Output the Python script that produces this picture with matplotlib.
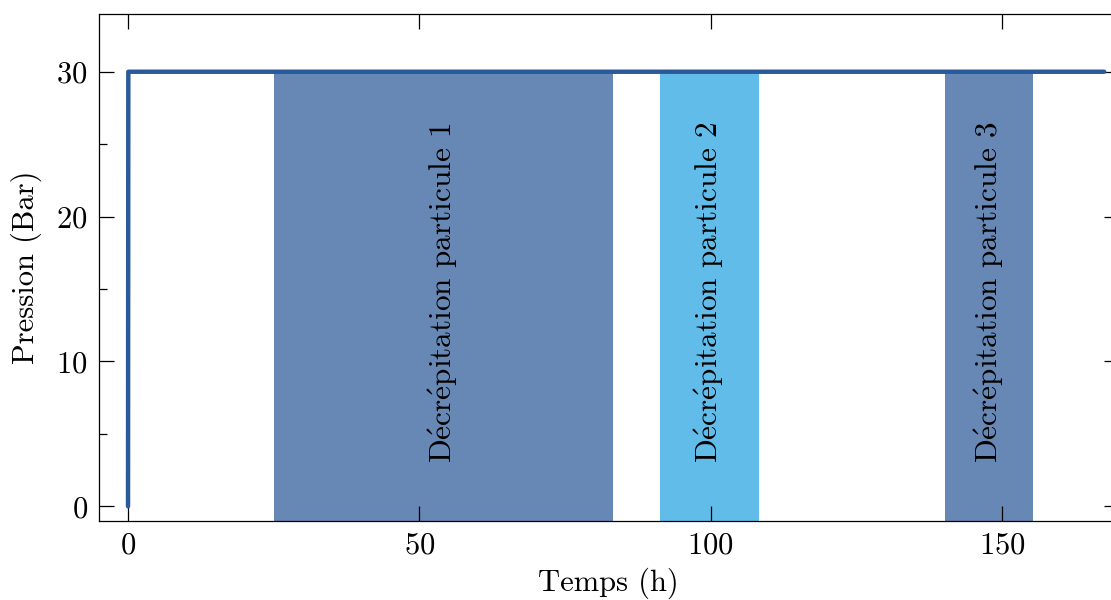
import numpy as np
import matplotlib
matplotlib.use("Agg")
import matplotlib.pyplot as plt
from matplotlib.ticker import MultipleLocator

plt.rcParams['font.family'] = 'serif'
plt.rcParams['font.serif'] = ['cmr10']
plt.rcParams['mathtext.fontset'] = 'cm'
plt.rcParams['axes.formatter.use_mathtext'] = True
plt.rcParams['axes.unicode_minus'] = False

# donnees
temps = [0.0, 0.05, 167.5]
pression = [0.0, 30.0, 30.0]

zones_debut = [25.0, 91.2, 140.2]
zones_fin = [83.2, 108.3, 155.3]
zones_noms = [r"D$\acute{\mathrm{e}}$cr$\acute{\mathrm{e}}$pitation particule 1",
              r"D$\acute{\mathrm{e}}$cr$\acute{\mathrm{e}}$pitation particule 2",
              r"D$\acute{\mathrm{e}}$cr$\acute{\mathrm{e}}$pitation particule 3"]
zones_couleurs = ['#6787b5', '#62bcea', '#6787b5']

fig = plt.figure(figsize=(11.11, 6), dpi=100)
ax = fig.add_axes([0.089, 0.132, 0.918, 0.845])

for d, f, nom, c in zip(zones_debut, zones_fin, zones_noms, zones_couleurs):
    ax.fill_between([d, f], -1, 30, color=c, lw=0, zorder=1)
    ax.text((d + f) / 2, 3, nom, rotation=90, ha='center', va='bottom',
            fontsize=22.5, zorder=3)

ax.plot(temps, pression, color='#2b5a9a', lw=3.2, solid_capstyle='round',
        solid_joinstyle='round', zorder=2)

ax.set_xlim(-5, 170)
ax.set_ylim(-1, 34)
ax.xaxis.set_major_locator(MultipleLocator(50))
ax.yaxis.set_major_locator(MultipleLocator(10))
ax.yaxis.set_minor_locator(MultipleLocator(5))

ax.tick_params(axis='both', which='major', direction='in', length=11, width=0.9,
               labelsize=22, pad=8)
ax.tick_params(axis='y', which='minor', direction='in', length=6, width=0.9)
ax.tick_params(axis='x', which='major', top=True)
ax.tick_params(axis='y', which='major', right=True)
for s in ax.spines.values():
    s.set_linewidth(0.9)

ax.set_xlabel("Temps (h)", fontsize=22, labelpad=6)
ax.set_ylabel("Pression (Bar)", fontsize=22, labelpad=10)

fig.savefig("out.png", dpi=100)
